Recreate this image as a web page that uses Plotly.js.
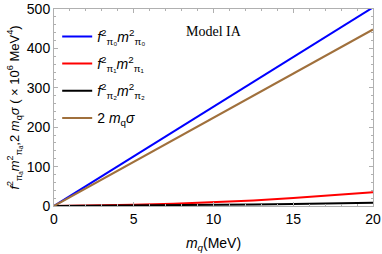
<!DOCTYPE html>
<html><head><meta charset="utf-8">
<script src="https://cdn.plot.ly/plotly-3.0.1.min.js"></script>
<style>html,body{margin:0;padding:0;background:#fff}</style>
</head><body><div id="chart" style="width:382px;height:254px"></div>
<script>
const mq = [0, 2.5, 5, 7.5, 10, 12.5, 15, 17.5, 20];
const pi0 = [0, 63, 126, 189, 252, 315, 378, 441, 504];
const pi1 = [0, 1, 3, 6, 10, 14, 20, 27, 35];
const pi2 = [0, 0.5, 1, 2, 3, 4, 5, 6.5, 8];
const sigma = [0, 56, 112, 168, 224, 280, 336, 392, 448];
const names = [
  '<i>f</i><sup>2</sup><sub>π₀</sub><i>m</i><sup>2</sup><sub>π₀</sub>',
  '<i>f</i><sup>2</sup><sub>π₁</sub><i>m</i><sup>2</sup><sub>π₁</sub>',
  '<i>f</i><sup>2</sup><sub>π₂</sub><i>m</i><sup>2</sup><sub>π₂</sub>',
  '2 <i>m</i><sub>q</sub><i>σ</i>'
];
const colors = ['#0000ff', '#ff0000', '#000000', '#a0703c'];
const series = [pi0, pi1, pi2, sigma];
const traces = series.map((s, i) => ({
  x: mq, y: s, name: names[i], type: 'scatter', mode: 'lines', legendgroup: 'g' + i,
  line: {color: colors[i], width: 2}
}));
const axisCommon = {
  showgrid: false, zeroline: false, showline: true, mirror: 'ticks',
  linecolor: '#b0b0b0', linewidth: 1, ticks: 'inside', ticklen: 4, ticklabeloverflow: 'allow',
  tickcolor: '#b0b0b0', tickfont: {family: 'Liberation Sans', size: 14, color: '#000'}
};
const layout = {
  width: 382, height: 254,
  margin: {l: 54, r: 9, t: 9, b: 48},
  paper_bgcolor: '#fff', plot_bgcolor: '#fff',
  showlegend: true,
  legend: {x: 0.01, y: 0.94, xanchor: 'left', yanchor: 'top', bgcolor: 'rgba(0,0,0,0)',
    font: {family: 'Liberation Sans', size: 14, color: '#000'}, tracegroupgap: 6, itemwidth: 30},
  xaxis: Object.assign({}, axisCommon, {
    range: [0, 20], tickvals: [0, 5, 10, 15, 20],
    minor: {dtick: 1, ticks: 'inside', ticklen: 2, tickcolor: '#b0b0b0'},
    title: {text: '<i>m<sub>q</sub></i>(MeV)', font: {family: 'Liberation Sans', size: 14, color: '#000'}, standoff: 12}
  }),
  yaxis: Object.assign({}, axisCommon, {
    range: [0, 500], tickvals: [0, 100, 200, 300, 400, 500],
    minor: {dtick: 20, ticks: 'inside', ticklen: 2, tickcolor: '#b0b0b0'},
    title: {text: '<i>f</i><sup>2</sup><sub>πₐ</sub><i>m</i><sup>2</sup><sub>πₐ</sub>,2 <i>m</i><sub>q</sub><i>σ</i> ( × 10<sup>6</sup> MeV<sup>4</sup>)',
      font: {family: 'Liberation Sans', size: 13, color: '#000'}, standoff: 4}
  }),
  annotations: [{
    text: 'Model IA', xref: 'paper', yref: 'paper', x: 0.50, y: 0.885, xanchor: 'center', yanchor: 'middle',
    showarrow: false, font: {family: 'Liberation Serif', size: 14, color: '#000'}
  }]
};
Plotly.newPlot('chart', traces, layout, {displayModeBar: false, staticPlot: true});
</script></body></html>
